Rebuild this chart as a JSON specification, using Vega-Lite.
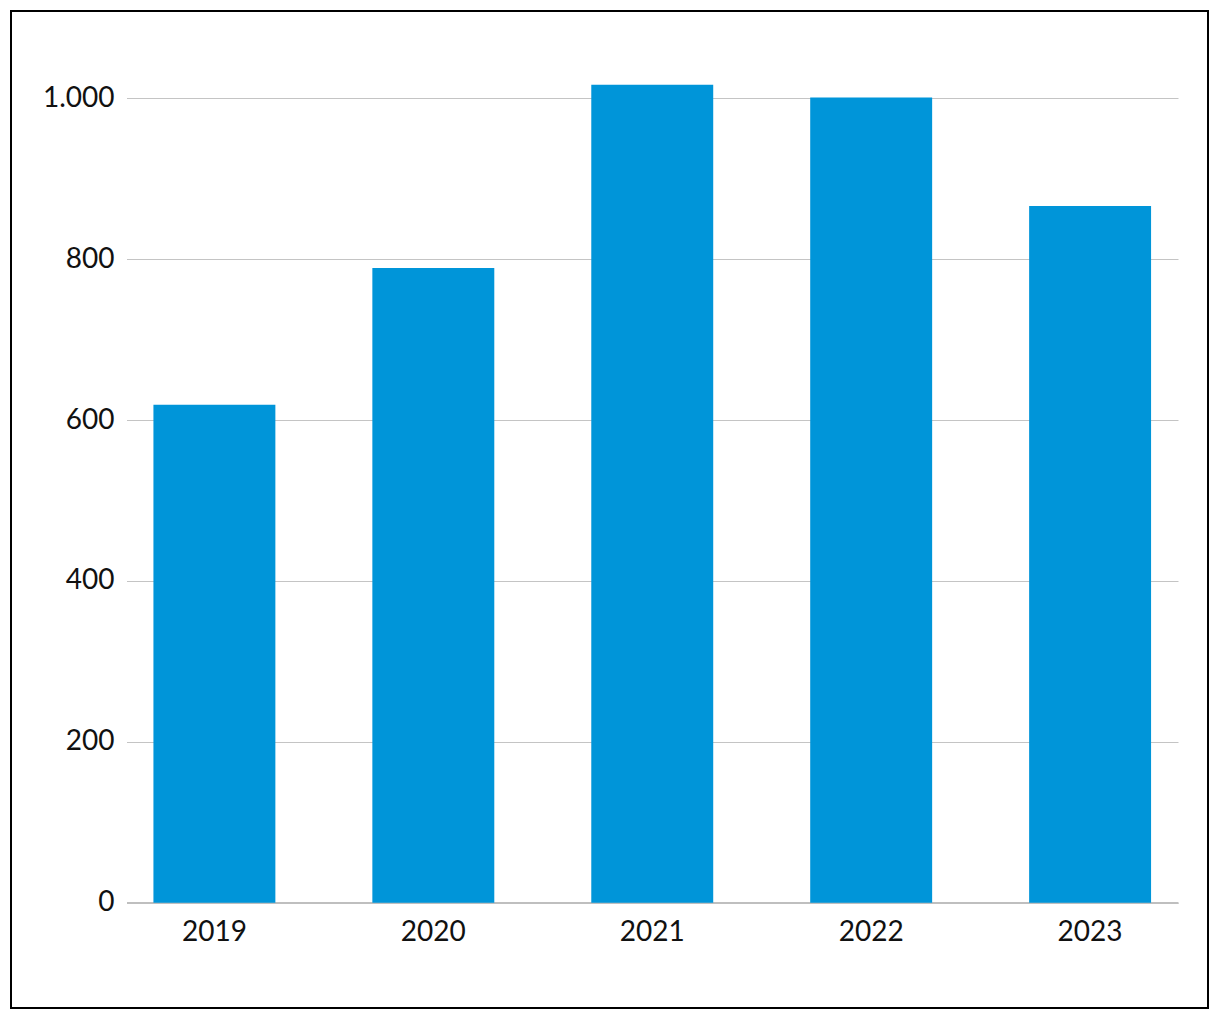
{
  "$schema": "https://vega.github.io/schema/vega-lite/v6.json",
  "width": 1197,
  "height": 997,
  "padding": {"left": 11, "top": 11, "right": 12, "bottom": 12},
  "autosize": {"type": "none"},
  "background": "white",
  "data": {"values": [
    {"year": "2019", "value": 619},
    {"year": "2020", "value": 789},
    {"year": "2021", "value": 1017},
    {"year": "2022", "value": 1001},
    {"year": "2023", "value": 866}
  ]},
  "mark": {"type": "bar", "color": "#0095d9"},
  "encoding": {
    "x": {
      "field": "year", "type": "ordinal",
      "scale": {"range": [115.5, 1167], "paddingInner": 0.443, "paddingOuter": 0.123},
      "axis": {
        "title": null, "labelAngle": 0, "ticks": false, "offset": -105.5,
        "domainColor": "#bfbfbf", "domainWidth": 2, "labelPadding": 16,
        "labelFont": "Lato", "labelFontSize": 28, "labelColor": "#111111"
      }
    },
    "y": {
      "field": "value", "type": "quantitative",
      "scale": {"domain": [0, 1000], "range": [891.7, 87.3], "nice": false, "zero": true},
      "axis": {
        "title": null, "values": [0, 200, 400, 600, 800, 1000], "ticks": false, "domain": false,
        "offset": -115, "labelPadding": 12,
        "labelExpr": "replace(format(datum.value, ','), ',', '.')",
        "gridColor": "#c4c4c4", "gridWidth": 1,
        "labelFont": "Lato", "labelFontSize": 28, "labelColor": "#111111"
      }
    }
  },
  "config": {
    "view": {"stroke": "#000000", "strokeWidth": 2}
  }
}
